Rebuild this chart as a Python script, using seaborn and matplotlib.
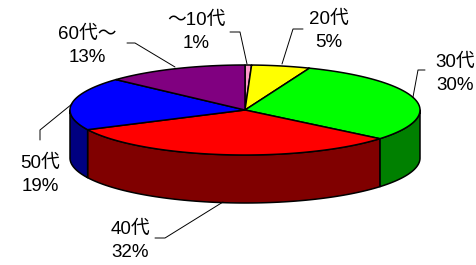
import numpy as np
import matplotlib
matplotlib.use("Agg")
import matplotlib.pyplot as plt
from matplotlib.patches import Polygon
import seaborn as sns

# data (clockwise from 12 o'clock)
age_groups = ["～10代", "20代", "30代", "40代", "50代", "60代～"]
shares = [0.6, 5.4, 30.0, 31.8, 19.0, 13.2]
top_colors = ["#FF99CC", "#FFFF00", "#00FF00", "#FF0000", "#0000FF", "#800080"]

# label layout in pixel coords (x, y of label centre) and leader lines
label_pos = [(196, 32), (329, 31), (455, 74), (130, 241), (40, 175), (87, 46)]
leaders = [
    [(230, 32), (240, 32), (247, 64)],
    [(303, 29), (293, 29), (282, 64)],
    [(425, 70), (418, 70), (413, 97)],
    [(155, 238), (165, 238), (223, 202)],
    [(40, 140), (40, 130), (72, 104)],
    [(127, 43), (135, 43), (175, 67)],
]

sns.set_theme(style="white")
plt.rcParams["font.family"] = ["Liberation Sans", "Noto Sans CJK JP", "DejaVu Sans"]

W, H = 477, 265
fig = plt.figure(figsize=(W / 100, H / 100), dpi=100)
ax = fig.add_axes([0, 0, 1, 1])
ax.set_xlim(0, W)
ax.set_ylim(H, 0)
ax.axis("off")

# ellipse geometry (pixels)
cx, cy, rx, ry, depth = 245, 110, 175, 45, 48


def pt(theta, dy=0.0):
    return cx + rx * np.sin(theta), cy - ry * np.cos(theta) + dy


fracs = np.array(shares) / np.sum(shares)
bounds = np.concatenate([[0], np.cumsum(fracs)]) * 2 * np.pi
edge = dict(edgecolor="black", linewidth=1.1, joinstyle="round")

# outer side walls (front half only: pi/2 .. 3pi/2)
for i, col in enumerate(top_colors):
    a0 = max(bounds[i], np.pi / 2)
    a1 = min(bounds[i + 1], 3 * np.pi / 2)
    if a1 <= a0:
        continue
    t = np.linspace(a0, a1, 80)
    xs, ys = pt(t)
    xb, yb = pt(t[::-1], depth)
    poly = np.column_stack([np.concatenate([xs, xb]), np.concatenate([ys, yb])])
    dark = tuple(c * 0.5 for c in matplotlib.colors.to_rgb(col))
    ax.add_patch(Polygon(poly, closed=True, facecolor=dark, **edge))

# top faces
for i, col in enumerate(top_colors):
    t = np.linspace(bounds[i], bounds[i + 1], 120)
    xs, ys = pt(t)
    poly = np.column_stack([np.concatenate([[cx], xs]), np.concatenate([[cy], ys])])
    ax.add_patch(Polygon(poly, closed=True, facecolor=col, **edge))

# labels and leader lines
for name, frac, (lx, ly), line in zip(age_groups, fracs, label_pos, leaders):
    ax.text(lx, ly, f"{name}\n{round(frac * 100):d}%", ha="center", va="center",
            multialignment="center", fontsize=13.5, linespacing=1.45, color="black")
    lxs, lys = zip(*line)
    ax.plot(lxs, lys, color="black", linewidth=0.7)

fig.savefig("out.png", dpi=100, facecolor="white")
